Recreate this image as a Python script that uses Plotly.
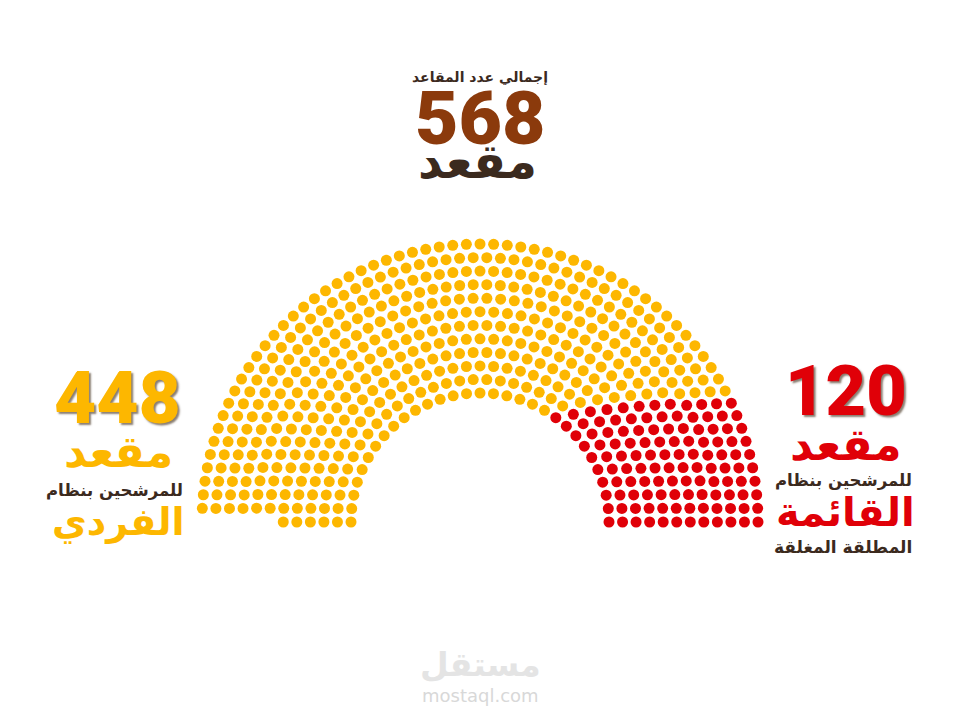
import numpy as np
import plotly.graph_objects as go

# بيانات المقاعد
ring_seats = [31, 34, 37, 40, 43, 46, 48, 51, 55, 58, 61, 64]
ring_slots = [31, 34, 37, 40, 43, 46, 49, 52, 56, 59, 62, 65]
list_seats_per_ring = [10, 10, 10, 10, 10, 10, 10, 10, 10, 10, 10, 10]

total_seats = 568
individual_seats = 448
list_seats = 120

YELLOW = "#fdb700"
RED = "#e00008"
BROWN = "#8b3a0c"
DARK = "#3b2a1e"

# هندسة نصف الدائرة (بوحدات البكسل في الصفحة)
cx, cy = 480, 522
r_in, r_out = 129, 278

xs_red, ys_red, xs_yel, ys_yel = [], [], [], []
radii = np.linspace(r_in, r_out, len(ring_seats))
for r, n, slots, n_red in zip(radii, ring_seats, ring_slots, list_seats_per_ring):
    step = np.pi / (slots - 1)
    for k in range(n):
        a = k * step
        x = cx + r * np.cos(a)
        y = cy - r * np.sin(a)
        if k < n_red:
            xs_red.append(x)
            ys_red.append(y)
        else:
            xs_yel.append(x)
            ys_yel.append(y)

fig = go.Figure()
fig.add_trace(
    go.Scatter(
        x=xs_yel, y=ys_yel, mode="markers",
        marker=dict(color=YELLOW, size=11, line=dict(width=0)),
        showlegend=False, hoverinfo="skip",
    )
)
fig.add_trace(
    go.Scatter(
        x=xs_red, y=ys_red, mode="markers",
        marker=dict(color=RED, size=11, line=dict(width=0)),
        showlegend=False, hoverinfo="skip",
    )
)

AR = "DejaVu Sans"
NUM = "Roboto"
shadow = "2px 2px 2px rgba(60,40,20,0.6)"


def label(x, y, text, size, color, family=AR, weight="bold", shadow_css="none"):
    fig.add_annotation(
        x=x, y=y, xref="x", yref="y", text=text, showarrow=False,
        xanchor="center", yanchor="middle",
        font=dict(family=family, size=size, color=color, weight=weight, shadow=shadow_css),
    )


# العنوان العلوي
label(480, 77, "إجمالي عدد المقاعد", 14, DARK)
label(480, 118, str(total_seats), 75, BROWN, family=NUM, weight=900)
label(477, 161, "مقعد", 48, DARK)

# الجانب الأيسر: النظام الفردي
label(117, 398, str(individual_seats), 73, YELLOW, family=NUM, weight=900, shadow_css=shadow)
label(118, 451, "مقعد", 44, YELLOW)
label(114, 491, "للمرشحين بنظام", 16.5, DARK)
label(118, 522, "الفردي", 38, YELLOW)

# الجانب الأيمن: نظام القائمة
label(846, 391, str(list_seats), 70, RED, family=NUM, weight=900, shadow_css=shadow)
label(846, 444, "مقعد", 45, RED)
label(843, 481, "للمرشحين بنظام", 16.5, DARK)
label(845, 512, "القائمة", 40, RED)
label(843, 547, "المطلقة المغلقة", 17, DARK)

# العلامة المائية
label(480, 664, "مستقل", 33, "#e4e4e4")
label(480, 695, "mostaql.com", 18, "#d8d8d8", weight="normal")

# الصفحة تضيف هامشاً قدره 8 بكسل، لذا تُزاح المحاور بالمقدار نفسه
fig.update_layout(
    width=960,
    height=720,
    margin=dict(l=0, r=0, t=0, b=0),
    paper_bgcolor="white",
    plot_bgcolor="white",
    xaxis=dict(range=[8, 968], visible=False, fixedrange=True),
    yaxis=dict(range=[728, 8], visible=False, fixedrange=True),
)

fig.write_html("out.html")
